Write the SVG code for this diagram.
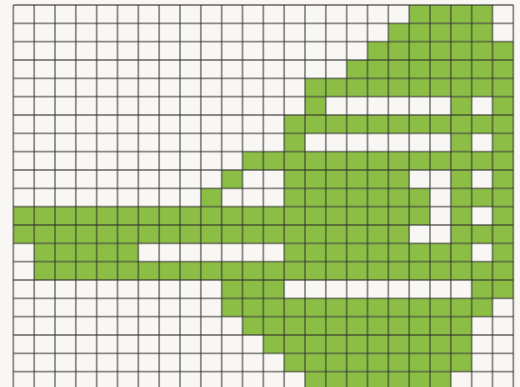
<svg xmlns="http://www.w3.org/2000/svg" width="520" height="387" viewBox="0 0 520 387">
<style>
.bg{fill:#f8f7f3}
.g{fill:#8cbe46}
.grid{fill:none;stroke:#303030;stroke-opacity:0.55;stroke-width:1.8}
</style>
<rect class="bg" x="0" y="0" width="520" height="387"/>
<g id="cells" transform="translate(13.333,5) scale(20.8333,18.3333)">
<rect class="g" x="19" y="0" width="4" height="1"/>
<rect class="g" x="18" y="1" width="5" height="1"/>
<rect class="g" x="17" y="2" width="7" height="1"/>
<rect class="g" x="16" y="3" width="8" height="1"/>
<rect class="g" x="14" y="4" width="10" height="1"/>
<rect class="g" x="14" y="5" width="1" height="1"/>
<rect class="g" x="21" y="5" width="1" height="1"/>
<rect class="g" x="23" y="5" width="1" height="1"/>
<rect class="g" x="13" y="6" width="11" height="1"/>
<rect class="g" x="13" y="7" width="1" height="1"/>
<rect class="g" x="21" y="7" width="1" height="1"/>
<rect class="g" x="23" y="7" width="1" height="1"/>
<rect class="g" x="11" y="8" width="13" height="1"/>
<rect class="g" x="10" y="9" width="1" height="1"/>
<rect class="g" x="13" y="9" width="6" height="1"/>
<rect class="g" x="21" y="9" width="1" height="1"/>
<rect class="g" x="23" y="9" width="1" height="1"/>
<rect class="g" x="9" y="10" width="1" height="1"/>
<rect class="g" x="13" y="10" width="7" height="1"/>
<rect class="g" x="21" y="10" width="3" height="1"/>
<rect class="g" x="0" y="11" width="20" height="1"/>
<rect class="g" x="21" y="11" width="1" height="1"/>
<rect class="g" x="23" y="11" width="1" height="1"/>
<rect class="g" x="0" y="12" width="19" height="1"/>
<rect class="g" x="21" y="12" width="3" height="1"/>
<rect class="g" x="1" y="13" width="5" height="1"/>
<rect class="g" x="13" y="13" width="9" height="1"/>
<rect class="g" x="23" y="13" width="1" height="1"/>
<rect class="g" x="1" y="14" width="23" height="1"/>
<rect class="g" x="10" y="15" width="3" height="1"/>
<rect class="g" x="22" y="15" width="2" height="1"/>
<rect class="g" x="10" y="16" width="13" height="1"/>
<rect class="g" x="11" y="17" width="11" height="1"/>
<rect class="g" x="12" y="18" width="10" height="1"/>
<rect class="g" x="13" y="19" width="9" height="1"/>
<rect class="g" x="14" y="20" width="7" height="1"/>
</g>
<g id="grid">
<path class="grid" d="M13.33 5V387M34.17 5V387M55 5V387M75.83 5V387M96.67 5V387M117.5 5V387M138.33 5V387M159.17 5V387M180 5V387M200.83 5V387M221.67 5V387M242.5 5V387M263.33 5V387M284.17 5V387M305 5V387M325.83 5V387M346.67 5V387M367.5 5V387M388.33 5V387M409.17 5V387M430 5V387M450.83 5V387M471.67 5V387M492.5 5V387M513.33 5V387"/>
<path class="grid" d="M13.33 5H513.33M13.33 23.33H513.33M13.33 41.67H513.33M13.33 60H513.33M13.33 78.33H513.33M13.33 96.67H513.33M13.33 115H513.33M13.33 133.33H513.33M13.33 151.67H513.33M13.33 170H513.33M13.33 188.33H513.33M13.33 206.67H513.33M13.33 225H513.33M13.33 243.33H513.33M13.33 261.67H513.33M13.33 280H513.33M13.33 298.33H513.33M13.33 316.67H513.33M13.33 335H513.33M13.33 353.33H513.33M13.33 371.67H513.33"/>
</g>
</svg>
